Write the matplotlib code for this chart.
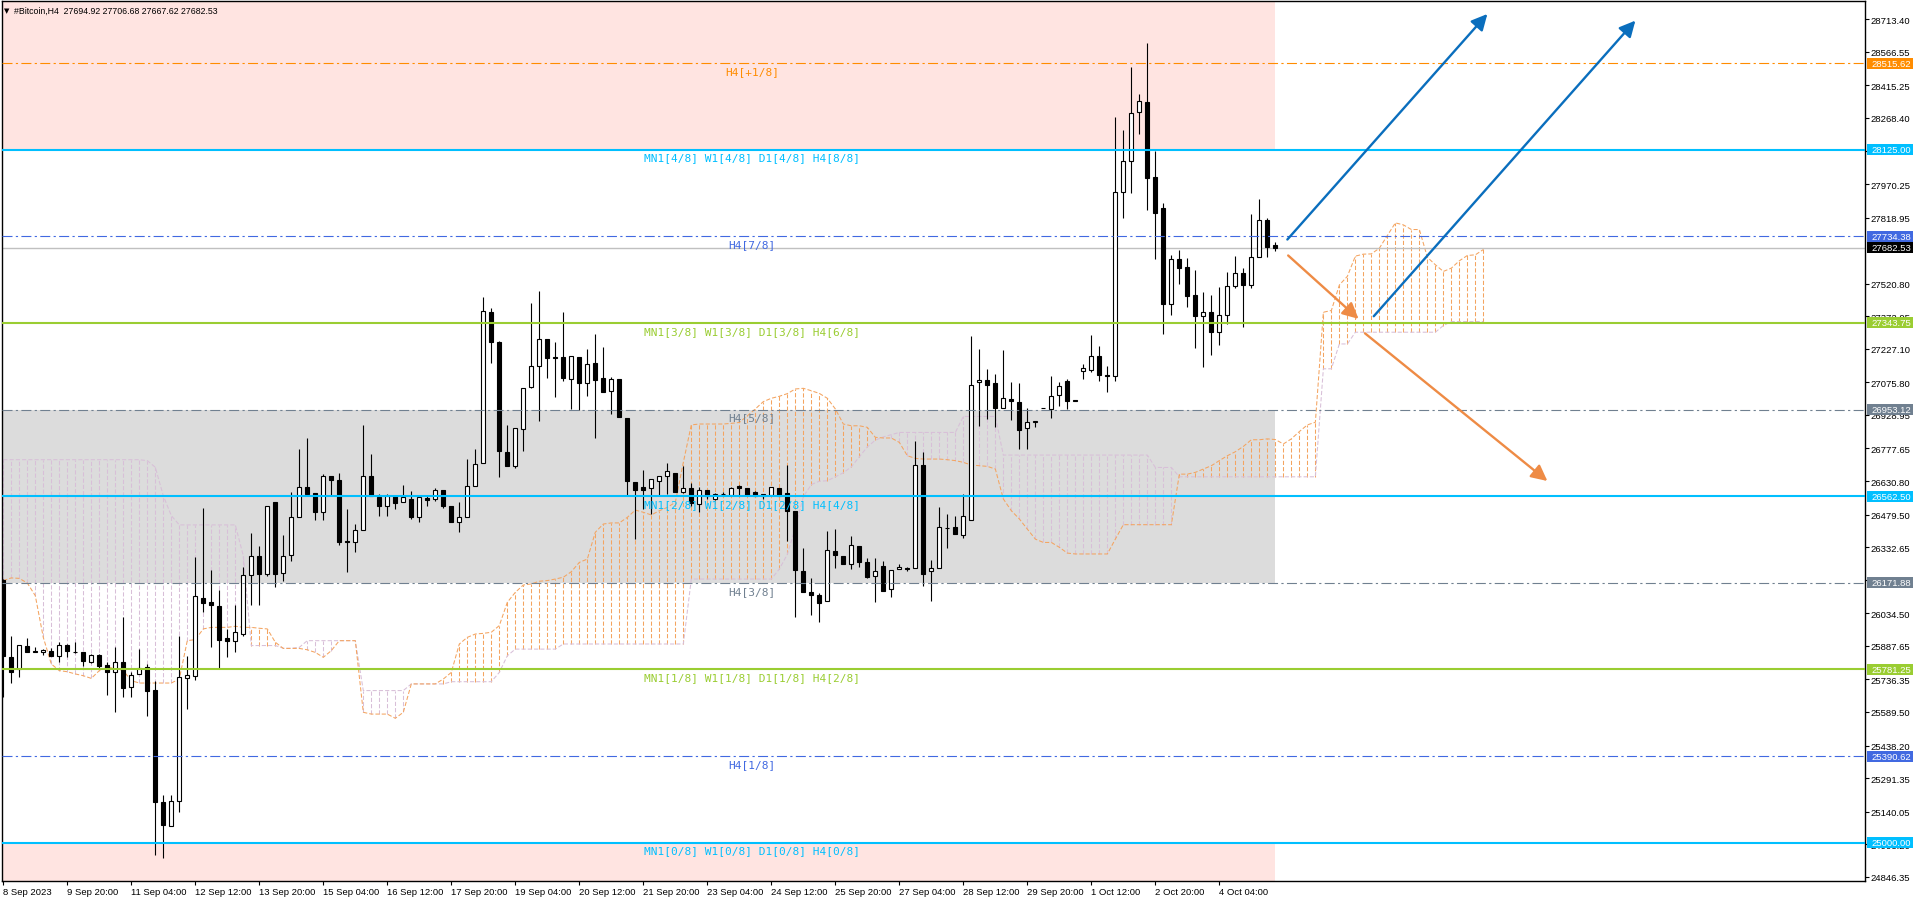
import matplotlib
matplotlib.use('Agg')
import matplotlib.pyplot as plt
import matplotlib.transforms as mtransforms
from matplotlib.patches import Rectangle

plt.rcParams['font.family'] = ['Liberation Sans', 'DejaVu Sans']

# H4 candles, bar 0 = 8 Sep 2023
opens = [26185, 25836, 25783, 25889, 25864, 25862, 25866, 25843, 25893, 25860,
         25859, 25816, 25846, 25801, 25768, 25813, 25701, 25761, 25791, 25689,
         25182, 25074, 25190, 25741, 25753, 26102, 26084, 26066, 25923, 25911,
         25941, 26209, 26294, 26212, 26535, 26216, 26297, 26467, 26602, 26575,
         26493, 26652, 26634, 26362, 26358, 26412, 26652, 26557, 26520, 26565,
         26535, 26550, 26470, 26553, 26550, 26591, 26517, 26445, 26467, 26607,
         26711, 27392, 27256, 26760, 26697, 26866, 27053, 27148, 27271, 27189,
         27189, 27091, 27189, 27072, 27162, 27094, 27035, 27091, 26914, 26625,
         26603, 26598, 26632, 26652, 26667, 26580, 26598, 26527, 26592, 26550,
         26571, 26568, 26608, 26598, 26583, 26565, 26569, 26598, 26577, 26494,
         26223, 26129, 26118, 26088, 26314, 26294, 26256, 26339, 26268, 26201,
         26246, 26144, 26234, 26237, 26237, 26703, 26223, 26237, 26417, 26422,
         26389, 26456, 27076, 27086, 27073, 26960, 27001, 26986, 26868, 26898,
         26958, 26955, 27019, 27080, 26996, 27128, 27133, 27193, 27110, 27106,
         27932, 28075, 28293, 28338, 28000, 27860, 27429, 27632, 27594, 27470,
         27376, 27391, 27301, 27381, 27512, 27567, 27516, 27642, 27809, 27694.92]
highs = [26190, 25931, 25893, 25922, 25884, 25874, 25877, 25904, 25896, 25904,
         25862, 25849, 25851, 25813, 25881, 26016, 25768, 25874, 25806, 25731,
         25215, 25215, 25931, 25843, 26287, 26509, 26231, 26141, 25964, 26072,
         26242, 26397, 26336, 26520, 26538, 26388, 26580, 26775, 26823, 26575,
         26663, 26652, 26667, 26505, 26437, 26884, 26753, 26573, 26573, 26565,
         26613, 26585, 26557, 26565, 26598, 26591, 26517, 26535, 26730, 26775,
         27459, 27410, 27261, 26884, 26869, 27049, 27434, 27486, 27271, 27259,
         27392, 27193, 27189, 27226, 27294, 27234, 27102, 27091, 26914, 26625,
         26681, 26640, 26652, 26712, 26667, 26697, 26622, 26602, 26592, 26577,
         26580, 26602, 26613, 26598, 26587, 26572, 26602, 26598, 26703, 26494,
         26327, 26192, 26124, 26404, 26414, 26294, 26384, 26339, 26282, 26282,
         26271, 26229, 26259, 26244, 26813, 26760, 26274, 26515, 26482, 26471,
         26572, 27283, 27226, 27136, 27113, 27223, 27079, 27073, 26958, 26899,
         26958, 27106, 27079, 27091, 26996, 27158, 27289, 27238, 27148, 28271,
         28214, 28496, 28376, 28606, 28120, 27884, 27650, 27674, 27635, 27582,
         27482, 27470, 27507, 27572, 27644, 27591, 27835, 27902, 27815, 27706.68]
lows = [25656, 25719, 25749, 25859, 25858, 25846, 25843, 25813, 25836, 25856,
        25798, 25810, 25783, 25666, 25591, 25656, 25656, 25761, 25570, 24945,
        24930, 25074, 25137, 25603, 25735, 26039, 25881, 25783, 25836, 25859,
        25931, 26072, 26072, 26204, 26152, 26182, 26272, 26467, 26572, 26457,
        26457, 26568, 26343, 26219, 26309, 26412, 26562, 26475, 26475, 26505,
        26535, 26460, 26445, 26520, 26542, 26508, 26445, 26403, 26467, 26607,
        26711, 27162, 26651, 26697, 26688, 26768, 27049, 26903, 27094, 27008,
        27084, 26956, 26951, 27013, 26823, 27034, 26933, 26918, 26565, 26370,
        26505, 26482, 26565, 26572, 26580, 26577, 26519, 26489, 26550, 26547,
        26565, 26565, 26565, 26568, 26565, 26550, 26565, 26565, 26362, 26020,
        26129, 26026, 25993, 26088, 26237, 26256, 26234, 26244, 26192, 26087,
        26136, 26106, 26234, 26223, 26237, 26159, 26091, 26237, 26327, 26392,
        26374, 26456, 26880, 26910, 26873, 26960, 26907, 26775, 26775, 26873,
        26958, 26913, 26970, 26955, 26990, 27091, 27124, 27083, 27031, 27083,
        27817, 27929, 28196, 27853, 27632, 27294, 27381, 27519, 27417, 27230,
        27146, 27200, 27246, 27339, 27500, 27324, 27500, 27642, 27639, 27667.62]
closes = [25843, 25768, 25893, 25859, 25860, 25871, 25843, 25893, 25863, 25858,
          25821, 25846, 25798, 25768, 25813, 25696, 25756, 25786, 25686, 25185,
          25081, 25190, 25746, 25756, 26111, 26081, 26072, 25916, 25911, 25949,
          26209, 26294, 26212, 26520, 26212, 26294, 26467, 26602, 26572, 26493,
          26652, 26634, 26358, 26358, 26412, 26655, 26562, 26520, 26565, 26532,
          26557, 26470, 26557, 26547, 26591, 26520, 26445, 26467, 26607, 26708,
          27396, 27256, 26768, 26697, 26869, 27049, 27151, 27271, 27186, 27187,
          27094, 27193, 27072, 27159, 27088, 27034, 27091, 26918, 26633, 26592,
          26592, 26640, 26652, 26674, 26580, 26598, 26530, 26592, 26565, 26572,
          26572, 26599, 26599, 26568, 26565, 26572, 26602, 26565, 26494, 26231,
          26129, 26118, 26079, 26321, 26297, 26256, 26344, 26267, 26199, 26223,
          26136, 26229, 26241, 26236, 26703, 26211, 26237, 26422, 26418, 26392,
          26471, 27065, 27086, 27065, 26960, 27004, 26993, 26862, 26895, 26899,
          26958, 27016, 27061, 26990, 26990, 27139, 27193, 27110, 27103, 27932,
          28072, 28289, 28343, 27997, 27838, 27429, 27632, 27591, 27467, 27376,
          27391, 27301, 27381, 27512, 27567, 27516, 27642, 27809, 27687, 27682.53]

# ichimoku senkou spans (already shifted, bars 0..185)
span_a = [26182, 26194, 26192, 26171, 26114, 25926, 25806, 25776, 25771, 25761,
          25753, 25741, 25776, 25791, 25786, 25776, 25731, 25720, 25720, 25720,
          25720, 25720, 25738, 25911, 25916, 25964, 25971, 25971, 25971, 25976,
          25971, 25971, 25967, 25964, 25904, 25876, 25876, 25876, 25870, 25858,
          25836, 25866, 25911, 25911, 25911, 25588, 25580, 25580, 25580, 25561,
          25588, 25716, 25716, 25716, 25716, 25738, 25768, 25896, 25926, 25941,
          25944, 25949, 25979, 26084, 26129, 26162, 26167, 26179, 26182, 26189,
          26197, 26222, 26264, 26279, 26400, 26437, 26442, 26442, 26467, 26500,
          26490, 26478, 26497, 26512, 26535, 26715, 26884, 26888, 26888, 26888,
          26888, 26891, 26895, 26925, 26956, 26989, 27004, 27013, 27025, 27046,
          27049, 27038, 27026, 27004, 26956, 26888, 26880, 26880, 26873, 26828,
          26825, 26825, 26805, 26745, 26733, 26730, 26730, 26730, 26727, 26723,
          26715, 26703, 26700, 26697, 26685, 26550, 26497, 26460, 26414, 26369,
          26354, 26354, 26332, 26306, 26302, 26302, 26302, 26302, 26302, 26369,
          26434, 26434, 26434, 26434, 26434, 26434, 26434, 26662, 26662, 26670,
          26685, 26700, 26723, 26745, 26763, 26787, 26817, 26817, 26821, 26818,
          26798, 26821, 26854, 26884, 26896, 27392, 27400, 27515, 27554, 27645,
          27654, 27655, 27681, 27738, 27795, 27786, 27765, 27765, 27640, 27606,
          27576, 27591, 27624, 27648, 27651, 27675]
span_b = [26727, 26727, 26727, 26727, 26727, 26727, 26727, 26727, 26727, 26727,
          26727, 26727, 26727, 26727, 26727, 26727, 26727, 26727, 26723, 26693,
          26565, 26475, 26433, 26433, 26433, 26433, 26433, 26433, 26433, 26433,
          26294, 25889, 25889, 25889, 25889, 25877, 25877, 25881, 25911, 25911,
          25911, 25911, 25911, 25911, 25911, 25686, 25686, 25686, 25686, 25686,
          25686, 25716, 25716, 25716, 25716, 25716, 25726, 25726, 25726, 25726,
          25726, 25726, 25768, 25843, 25873, 25873, 25873, 25873, 25873, 25873,
          25896, 25896, 25896, 25896, 25896, 25896, 25896, 25896, 25896, 25896,
          25896, 25896, 25896, 25896, 25896, 25896, 26189, 26189, 26189, 26189,
          26189, 26189, 26189, 26189, 26189, 26189, 26189, 26234, 26300, 26420,
          26560, 26615, 26630, 26632, 26650, 26668, 26695, 26740, 26785, 26815,
          26830, 26840, 26850, 26850, 26850, 26850, 26850, 26850, 26850, 26850,
          26922, 26922, 26922, 26922, 26922, 26748, 26748, 26748, 26748, 26748,
          26748, 26748, 26748, 26748, 26748, 26748, 26748, 26748, 26748, 26748,
          26748, 26748, 26748, 26748, 26692, 26692, 26692, 26650, 26650, 26650,
          26650, 26650, 26650, 26650, 26650, 26650, 26650, 26650, 26650, 26650,
          26650, 26650, 26650, 26650, 26650, 27137, 27137, 27249, 27249, 27302,
          27302, 27302, 27302, 27302, 27302, 27302, 27302, 27302, 27302, 27302,
          27332, 27350, 27350, 27350, 27350, 27350]

# murrey math levels
level_prices = [28515.62, 28125.00, 27734.38, 27343.75, 26953.12,
                26562.50, 26171.88, 25781.25, 25390.62, 25000.00]
level_labels = ['H4[+1/8]', 'MN1[4/8] W1[4/8] D1[4/8] H4[8/8]', 'H4[7/8]',
                'MN1[3/8] W1[3/8] D1[3/8] H4[6/8]', 'H4[5/8]',
                'MN1[2/8] W1[2/8] D1[2/8] H4[4/8]', 'H4[3/8]',
                'MN1[1/8] W1[1/8] D1[1/8] H4[2/8]', 'H4[1/8]',
                'MN1[0/8] W1[0/8] D1[0/8] H4[0/8]']
level_colors = ['#FF8C00', '#00BFFF', '#4169E1', '#9ACD32', '#708090',
                '#00BFFF', '#708090', '#9ACD32', '#4169E1', '#00BFFF']
bid = 27682.53

ytick_values = [28713.40, 28566.55, 28415.25, 28268.40, 28119.55, 27970.25,
                27818.95, 27520.80, 27372.95, 27227.10, 27075.80,
                26928.95, 26777.65, 26630.80, 26479.50, 26332.65, 26183.80,
                26034.50, 25887.65, 25736.35, 25589.50, 25438.20, 25291.35,
                25140.05, 24993.20, 24846.35]
xtick_labels = ['8 Sep 2023', '9 Sep 20:00', '11 Sep 04:00', '12 Sep 12:00',
                '13 Sep 20:00', '15 Sep 04:00', '16 Sep 12:00', '17 Sep 20:00',
                '19 Sep 04:00', '20 Sep 12:00', '21 Sep 20:00', '23 Sep 04:00',
                '24 Sep 12:00', '25 Sep 20:00', '27 Sep 04:00', '28 Sep 12:00',
                '29 Sep 20:00', '1 Oct 12:00', '2 Oct 20:00', '4 Oct 04:00']

# hand drawn arrows (bar, price)
arrow_start = [(160.5, 27720), (171.3, 27374), (160.6, 27648), (170.2, 27297)]
arrow_end = [(185.5, 28737), (204.0, 28707), (169.4, 27362), (193.0, 26631)]
arrow_colors = ['#0A6EBD', '#0A6EBD', '#EE8B45', '#EE8B45']

W, H = 1916, 903
fig = plt.figure(figsize=(W / 100, H / 100), dpi=100)
ax = fig.add_axes([2 / W, 21 / H, 1863 / W, 880 / H])
ymin, ymax = 24827.3, 28795.5
ax.set_xlim(-0.16, 232.7)
ax.set_ylim(ymin, ymax)
last = len(closes) - 1

# background zones
ax.add_patch(Rectangle((-5, level_prices[1]), last + 5, 2000, fc='#FFE4E1', ec='none', zorder=0))
ax.add_patch(Rectangle((-5, 24000), last + 5, level_prices[9] - 24000, fc='#FFE4E1', ec='none', zorder=0))
ax.add_patch(Rectangle((-5, level_prices[6]), last + 5, level_prices[4] - level_prices[6],
                       fc='#DCDCDC', ec='none', zorder=0))

# cloud
hatch = (0, (4, 2))
for i in range(len(span_a)):
    a, b = span_a[i], span_b[i]
    c = '#F4A460' if a >= b else '#D8BFD8'
    ax.vlines(i, min(a, b), max(a, b), colors=c, linestyles=hatch, lw=0.75, zorder=1)
ax.plot(range(len(span_b)), span_b, color='#D8BFD8', ls=hatch, lw=0.75, zorder=1)
ax.plot(range(len(span_a)), span_a, color='#F4A460', ls=hatch, lw=0.75, zorder=1)

ax.axhline(bid, color='#C0C0C0', lw=1, zorder=2)

# candles
bw = 0.5
for i in range(len(closes)):
    o, hi, lo, c = opens[i], highs[i], lows[i], closes[i]
    ax.vlines(i, lo, hi, colors='k', lw=0.8, zorder=3)
    fc = 'white' if c > o else 'black'
    ax.add_patch(Rectangle((i - bw / 2, min(o, c)), bw, max(abs(c - o), 2),
                           fc=fc, ec='black', lw=0.8, zorder=4))

# levels
for p, lbl, col in zip(level_prices, level_labels, level_colors):
    if lbl.startswith('MN1'):
        ax.axhline(p, color=col, lw=1.5, zorder=5)
    else:
        ax.axhline(p, color=col, lw=0.8, ls=(0, (9, 3, 2, 3)), zorder=5)
    ax.annotate(lbl, xy=(93.6, p), xytext=(0, -2), textcoords='offset points',
                ha='center', va='top', color=col, fontsize=8,
                family='DejaVu Sans Mono', zorder=6)

for s, e, col in zip(arrow_start, arrow_end, arrow_colors):
    ax.annotate('', xy=e, xytext=s,
                arrowprops=dict(arrowstyle='-|>', color=col, lw=1.7,
                                mutation_scale=24, shrinkA=0, shrinkB=0),
                zorder=7)

# axes
for sp in ax.spines.values():
    sp.set_linewidth(1)
    sp.set_color('black')
ax.yaxis.tick_right()
ax.set_yticks(ytick_values)
ax.set_yticklabels(['%.2f' % v for v in ytick_values])
ax.tick_params(axis='y', direction='out', length=3, width=0.8, pad=1, labelsize=6.8)
ax.set_xticks(range(0, len(xtick_labels) * 8, 8))
ax.set_xticklabels(xtick_labels)
ax.tick_params(axis='x', direction='out', length=3, width=0.8, pad=1, labelsize=6.8)
for t in ax.get_xticklabels():
    t.set_ha('left')

# price boxes on the right scale
blend = mtransforms.blended_transform_factory(fig.transFigure, ax.transData)
upx = (ymax - ymin) / 880
box_prices = level_prices + [bid]
box_colors = level_colors + ['black']
for p, col in zip(box_prices, box_colors):
    ax.add_patch(Rectangle((1867 / W, p - 5.5 * upx), 46 / W, 11 * upx, transform=blend,
                           fc=col, ec='none', clip_on=False, zorder=10))
    ax.text(1871 / W, p, '%.2f' % p, transform=blend, color='white', fontsize=6.8,
            va='center', ha='left', clip_on=False, zorder=11)

fig.text(4 / W, 1 - 11 / H, '\u25bc', fontsize=5, va='center', ha='left', family='DejaVu Sans')
fig.text(14 / W, 1 - 11 / H, '#Bitcoin,H4  27694.92 27706.68 27667.62 27682.53',
         fontsize=6.3, va='center', ha='left')

fig.savefig('out.png', dpi=100, facecolor='white')
